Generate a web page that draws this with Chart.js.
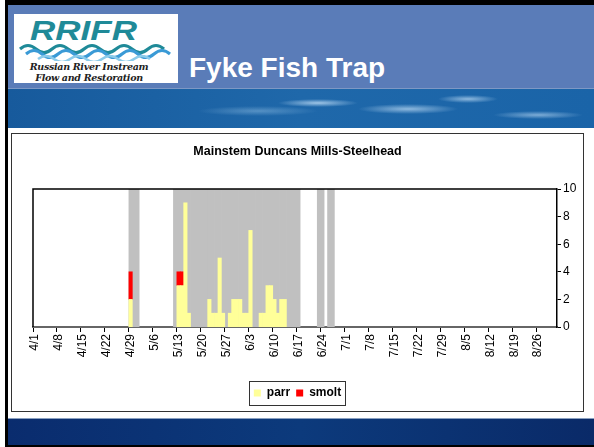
<!DOCTYPE html>
<html>
<head>
<meta charset="utf-8">
<script src="https://cdn.jsdelivr.net/npm/chart.js@4"></script>
<style>
  body { margin: 0; width: 594px; height: 447px; background: #fff; position: relative; overflow: hidden; font-family: Arial, "Liberation Sans", sans-serif; }
  .abs { position: absolute; }
  #topbar { left: 5px; top: 0; width: 589px; height: 5px; background: #000; }
  #leftbar { left: 5px; top: 0; width: 3px; height: 447px; background: #000; }
  #header { left: 8px; top: 5px; width: 586px; height: 83px; background: #5a7cb8; }
  #logo { left: 14px; top: 14px; width: 164px; height: 69px; background: #fff; }
  #logo .big { position: absolute; left: 16px; top: 1px; font: italic bold 28px "Liberation Sans", sans-serif; color: #1f8a98; transform: scaleX(1.25); transform-origin: left top; }
  #logo .small { position: absolute; left: 0; width: 150px; text-align: center; font: italic bold 9.5px "DejaVu Serif", serif; color: #222; letter-spacing: -0.3px; }
  #title { left: 189px; top: 52px; font: bold 28px Arial, "Liberation Sans", sans-serif; color: #fff; }
  #ocean { left: 8px; top: 88px; width: 586px; height: 39px; border-top: 1px solid #7d98c4;
    background:
      radial-gradient(ellipse 40px 4px at 310px 14px, rgba(190,220,245,0.8), rgba(190,220,245,0)),
      radial-gradient(ellipse 50px 5px at 400px 20px, rgba(190,220,245,0.7), rgba(190,220,245,0)),
      radial-gradient(ellipse 30px 4px at 460px 10px, rgba(190,220,245,0.7), rgba(190,220,245,0)),
      radial-gradient(ellipse 45px 4px at 530px 26px, rgba(190,220,245,0.6), rgba(190,220,245,0)),
      radial-gradient(ellipse 60px 5px at 250px 22px, rgba(170,210,240,0.4), rgba(170,210,240,0)),
      linear-gradient(90deg, #175a9c, #1f68aa 50%, #1a64a8);
  }
  #chartbox { left: 11px; top: 133px; width: 571px; height: 277px; border: 1.5px solid #333; background: #fff; }
  #footer { left: 8px; top: 418px; width: 586px; height: 27px; border-top: 1px solid #8aa0c0;
    background: linear-gradient(90deg, #0a2c6e, #0c3a7c 50%, #0a2a68); }
  #bottombar { left: 5px; top: 445px; width: 589px; height: 2px; background: #000; }
</style>
</head>
<body>
<div id="header" class="abs"></div>
<div id="topbar" class="abs"></div>
<div id="leftbar" class="abs"></div>
<div id="logo" class="abs">
  <div class="big">RRIFR</div>
  <svg class="abs" style="left:4px;top:27px" width="156" height="20" viewBox="0 0 156 20">
    <path d="M2 8 Q 10 1 18 8 T 34 8 T 50 8 T 66 8 T 82 8 T 98 8 T 114 8 T 130 8 T 146 8" fill="none" stroke="#1f8a98" stroke-width="3"/>
    <path d="M8 13 Q 16 6 24 13 T 40 13 T 56 13 T 72 13 T 88 13 T 104 13 T 120 13 T 136 13 T 152 13" fill="none" stroke="#3a9ad6" stroke-width="3"/>
    <path d="M20 18 Q 28 12 36 18 T 52 18 T 68 18 T 84 18 T 100 18 T 116 18 T 132 18" fill="none" stroke="#8ccbea" stroke-width="2.5"/>
  </svg>
  <div class="small" style="top:47px">Russian River Instream</div>
  <div class="small" style="top:58px">Flow and Restoration</div>
</div>
<div id="title" class="abs">Fyke Fish Trap</div>
<div id="ocean" class="abs"></div>
<div id="chartbox" class="abs">
  <div style="position:relative;width:571px;height:277px"><canvas id="chart"></canvas></div>
</div>
<div id="footer" class="abs"></div>
<div id="bottombar" class="abs"></div>

<script>
// days in each month of the season, April through August
const months = [4, 5, 6, 7, 8];
const monthDays = [30, 31, 30, 31, 31];

// catch counts
const parrDates = ['4/29', '5/13', '5/14', '5/15', '5/16', '5/22', '5/23', '5/24', '5/25', '5/26',
    '5/28', '5/29', '5/30', '5/31', '6/1', '6/2', '6/3', '6/6', '6/7', '6/8', '6/9', '6/10',
    '6/11', '6/12', '6/13'];
const parrCounts = [2, 3, 3, 9, 1, 2, 1, 1, 5, 1,
    1, 2, 2, 2, 1, 1, 7, 1, 1, 3, 3, 2,
    1, 2, 2];
const smoltDates = ['4/29', '5/13', '5/14'];
const smoltCounts = [2, 1, 1];

// grey bands (trap periods)
const grayStart = ['4/29', '5/12', '6/23', '6/26'];
const grayEnd = ['5/1', '6/17', '6/24', '6/27'];
const grayHeight = 10;

const yTicks = [0, 2, 4, 6, 8, 10];

let labels = [];
months.forEach((m, i) => {
    for (let d = 1; d <= monthDays[i]; d++) labels.push(m + '/' + d);
});

function toSeries(dates, counts) {
    let out = labels.map(() => null);
    dates.forEach((d, i) => out[labels.indexOf(d)] = counts[i]);
    return out;
}

let parr = toSeries(parrDates, parrCounts);
let smolt = toSeries(smoltDates, smoltCounts);
let gray = labels.map(() => null);
grayStart.forEach((s, i) => {
    for (let k = labels.indexOf(s); k <= labels.indexOf(grayEnd[i]); k++) gray[k] = grayHeight;
});

const fontFamily = 'Arial, "Liberation Sans", sans-serif';

let barStyle = {
    grouped: false,
    categoryPercentage: 1,
    barPercentage: 1,
    borderWidth: 0
};

// frame round the plot area and a box round the legend
let framePlugin = {
    id: 'frames',
    afterDatasetsDraw(chart) {
        let a = chart.chartArea;
        let ctx = chart.ctx;
        ctx.save();
        ctx.strokeStyle = '#000';
        ctx.lineWidth = 1.5;
        ctx.beginPath();
        ctx.moveTo(a.left, a.bottom);
        ctx.lineTo(a.left, a.top);
        ctx.lineTo(a.right, a.top);
        ctx.stroke();
        ctx.restore();
    },
    afterDraw(chart) {
        let boxes = chart.legend.legendHitBoxes;
        if (!boxes || !boxes.length) return;
        let left = Math.min(...boxes.map(b => b.left));
        let right = Math.max(...boxes.map(b => b.left + b.width));
        let top = Math.min(...boxes.map(b => b.top));
        let bottom = Math.max(...boxes.map(b => b.top + b.height));
        let ctx = chart.ctx;
        ctx.save();
        ctx.strokeStyle = '#333';
        ctx.lineWidth = 1;
        ctx.strokeRect(Math.round(left - 5) + 0.5, Math.round(top - 6) + 0.5, Math.round(right - left + 9), Math.round(bottom - top + 12));
        ctx.restore();
    }
};

new Chart(document.getElementById('chart'), {
    type: 'bar',
    data: {
        labels,
        datasets: [
            { label: 'parr', data: parr, backgroundColor: '#ffff99', stack: 'fish', ...barStyle },
            { label: 'smolt', data: smolt, backgroundColor: '#ff0000', stack: 'fish', ...barStyle },
            { label: 'trap', data: gray, backgroundColor: '#c0c0c0', stack: 'bg', ...barStyle }
        ]
    },
    options: {
        responsive: true,
        maintainAspectRatio: false,
        animation: false,
        layout: { padding: { left: 0, right: 0, top: 0, bottom: 2 } },
        plugins: {
            title: {
                display: true,
                text: 'Mainstem Duncans Mills-Steelhead',
                color: '#000',
                font: { family: fontFamily, size: 12.5, weight: 'bold' },
                padding: { top: 10, bottom: 30 }
            },
            legend: {
                position: 'bottom',
                labels: {
                    color: '#000',
                    boxWidth: 7,
                    boxHeight: 7,
                    padding: 6,
                    font: { family: fontFamily, size: 12, weight: 'bold' },
                    filter: item => item.text !== 'trap'
                }
            },
            tooltip: { enabled: false }
        },
        scales: {
            x: {
                stacked: true,
                offset: true,
                afterFit: s => { s.height = 54; },
                border: { color: '#666', width: 2 },
                grid: {
                    offset: true,
                    drawOnChartArea: false,
                    tickLength: 5,
                    color: ctx => ctx.index % 7 === 0 ? '#000' : 'rgba(0,0,0,0)'
                },
                ticks: {
                    autoSkip: false,
                    minRotation: 90,
                    maxRotation: 90,
                    padding: 2,
                    color: '#000',
                    font: { family: fontFamily, size: 12 },
                    callback: (v, i) => i % 7 === 0 ? labels[i] : ''
                }
            },
            // empty left axis, only holds the space left of the plot
            spacer: {
                type: 'linear',
                position: 'left',
                afterFit: s => { s.width = 21; },
                border: { display: false },
                grid: { display: false },
                ticks: { display: false }
            },
            y: {
                stacked: true,
                position: 'right',
                min: yTicks[0],
                max: yTicks[yTicks.length - 1],
                afterFit: s => { s.width = 26; },
                border: { color: '#000', width: 1.5 },
                grid: { drawOnChartArea: false, tickLength: 4, color: '#000' },
                ticks: {
                    stepSize: 2,
                    padding: 2,
                    color: '#000',
                    font: { family: fontFamily, size: 12 }
                }
            }
        }
    },
    plugins: [framePlugin]
});
</script>
</body>
</html>
